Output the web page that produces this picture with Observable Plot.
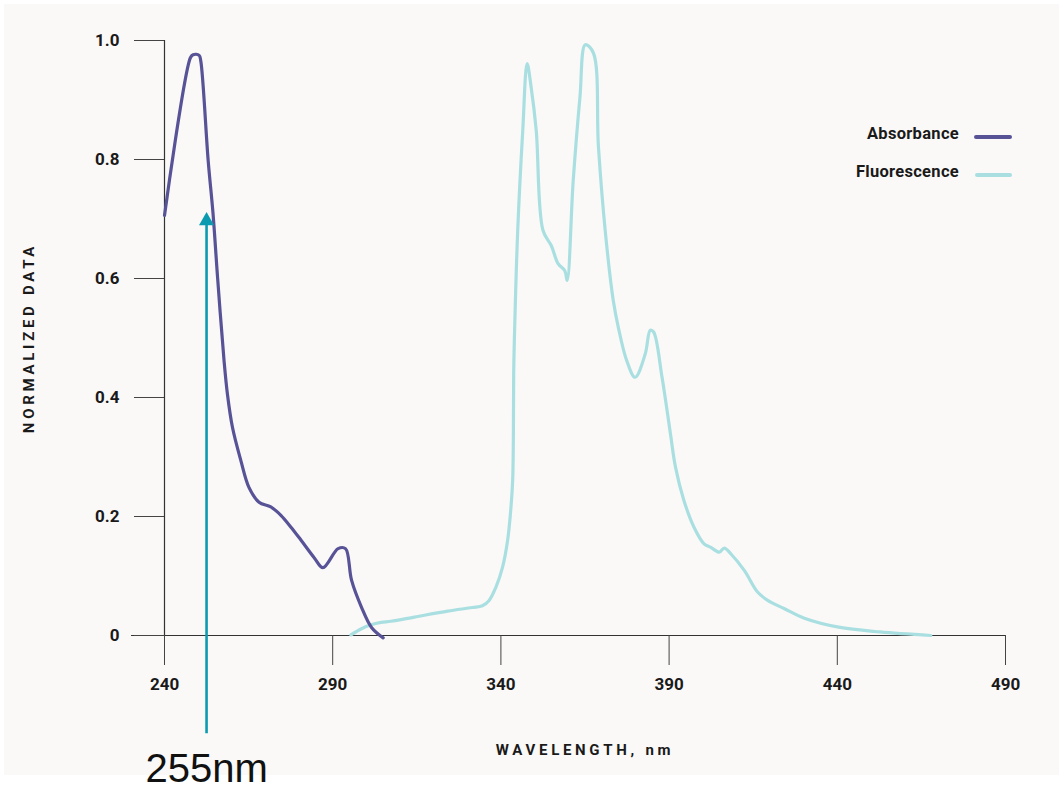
<!DOCTYPE html>
<html>
<head>
<meta charset="utf-8">
<script src="https://cdn.jsdelivr.net/npm/d3@7"></script>
<script src="https://cdn.jsdelivr.net/npm/@observablehq/plot@0.6"></script>
<style>
  body { margin: 0; background: #ffffff; }
  #wrap { position: relative; width: 1063px; height: 785px; overflow: hidden; }
  #bg { position: absolute; left: 4px; top: 4px; width: 1055px; height: 771px; background: #faf9f8; }
  #chart { position: absolute; left: 0; top: 0; }
  .leg { position: absolute; right: 104px; height: 20px; line-height: 20px;
         font-family: Roboto, "DejaVu Sans", sans-serif;
         font-weight: bold; font-size: 16.5px; color: #1a1a1a; text-align: right; white-space: nowrap; letter-spacing: 0.3px; }
  .legline { position: absolute; height: 4px; border-radius: 2px; }
</style>
</head>
<body>
<div id="wrap">
  <div id="bg"></div>
  <div id="chart"></div>
</div>
<script>
// ---- data ----
const absWl  = [240, 247.7, 248.5, 250.3, 250.8, 253.0, 254.4, 255.8, 257.7, 258.7, 260.2, 262.7, 265.1, 268.1, 271.6, 274.6, 277.6, 280.6, 284.6, 287.1, 291.6, 293.8, 295.6, 298.6, 301.6, 305.0];
const absVal = [0.706, 0.971, 0.976, 0.975, 0.965, 0.797, 0.711, 0.600, 0.462, 0.406, 0.350, 0.294, 0.249, 0.224, 0.216, 0.202, 0.182, 0.160, 0.130, 0.114, 0.146, 0.146, 0.093, 0.047, 0.013, -0.004];

const fluWl  = [295.4, 298.4, 301.4, 304.4, 307.3, 314.3, 324.2, 331.5, 334.5, 336.5, 338.5, 340.5, 342.0, 343.0, 343.5, 343.7, 343.8, 344.0, 345.0, 346.5, 347.8, 349.0, 350.5, 352.5, 355.0, 357.0, 359.0, 359.7, 361.5, 363.5, 365.1, 367.5, 369.0, 371.0, 373.4, 374.9, 377.4, 379.9, 382.9, 384.4, 385.4, 387.9, 390.4, 391.9, 394.4, 397.4, 400.4, 402.4, 404.9, 406.4, 408.4, 412.4, 416.3, 419.3, 424.3, 430.2, 440.4, 452.7, 467.8];
const fluVal = [0.001, 0.011, 0.018, 0.022, 0.024, 0.031, 0.041, 0.047, 0.050, 0.059, 0.081, 0.115, 0.160, 0.216, 0.261, 0.328, 0.440, 0.496, 0.681, 0.849, 0.961, 0.921, 0.849, 0.681, 0.655, 0.625, 0.613, 0.597, 0.765, 0.905, 0.993, 0.979, 0.821, 0.681, 0.563, 0.518, 0.462, 0.434, 0.473, 0.513, 0.510, 0.434, 0.339, 0.283, 0.227, 0.182, 0.154, 0.148, 0.140, 0.147, 0.137, 0.109, 0.073, 0.059, 0.045, 0.029, 0.014, 0.006, 0.000];

const xTicks = [240, 290, 340, 390, 440, 490];
const yTicks = [0, 0.2, 0.4, 0.6, 0.8, 1.0];
const xAxisStart = 230.2;          // x-axis baseline extends left of 240
const arrowWl = 252.5;             // annotation arrow position
const arrowBottom = -0.165;
const arrowTop = 0.697;
const arrowLabel = "255nm";
const arrowLabelY = -0.224;
const xTitle = "WAVELENGTH, nm";
const yTitle = "NORMALIZED DATA";

const absColor = "#575396";
const fluColor = "#a9dfe0";
const arrowColor = "#0b9bb0";

const absData = absWl.map((w, i) => ({w, v: absVal[i]}));
const fluData = fluWl.map((w, i) => ({w, v: fluVal[i]}));

const font = "Roboto, \"DejaVu Sans\", sans-serif";

const chart = Plot.plot({
  width: 1063,
  height: 785,
  marginTop: 40,
  marginBottom: 150,
  marginLeft: 164,
  marginRight: 58,
  style: { background: "transparent", fontFamily: font, fontSize: "17px", fontWeight: "bold", color: "#1a1a1a", overflow: "visible" },
  x: { domain: [240, 490] },
  y: { domain: [0, 1] },
  marks: [
    Plot.ruleY([0], { x1: xAxisStart, x2: 490, stroke: "#333", strokeWidth: 1.2 }),
    Plot.ruleX([240], { y1: 0, y2: 1, stroke: "#333", strokeWidth: 1.2 }),
    Plot.axisY({ ticks: yTicks, tickSize: 30, tickPadding: 15, stroke: "#444",
                 tickFormat: d => d === 0 ? "0" : d.toFixed(1), label: null }),
    Plot.axisX({ ticks: xTicks, tickSize: 30, tickPadding: 12, stroke: "#444", label: null }),
    Plot.text([yTitle], { frameAnchor: "left", textAnchor: "middle", dx: -135, rotate: -90, fontSize: 15, fontWeight: "bold" }),
    Plot.text([xTitle], { frameAnchor: "bottom", textAnchor: "middle", dy: 119, fontSize: 15, fontWeight: "bold" }),
    Plot.line(fluData, { x: "w", y: "v", curve: "catmull-rom", stroke: fluColor, strokeWidth: 3.2, strokeLinejoin: "round", strokeLinecap: "round" }),
    Plot.line(absData, { x: "w", y: "v", curve: "catmull-rom", stroke: absColor, strokeWidth: 3.2, strokeLinejoin: "round", strokeLinecap: "round" }),
    Plot.ruleX([arrowWl], { y1: arrowBottom, y2: arrowTop, stroke: arrowColor, strokeWidth: 2.6 }),
    Plot.dot([arrowWl], { x: d => d, y: arrowTop, symbol: "triangle", r: 5.6, fill: arrowColor, stroke: "none" }),
    Plot.text([arrowLabel], { x: arrowWl, y: arrowLabelY, fontSize: 40, fontWeight: "normal",
                              fontFamily: "\"Liberation Sans\", Arial, sans-serif", fill: "#111" })
  ]
});

d3.select(chart).selectAll("text")
  .filter(function() { return this.textContent === xTitle || this.textContent === yTitle; })
  .style("letter-spacing", "3.7px");

document.getElementById("chart").appendChild(chart);

// legend (HTML)
const wrap = document.getElementById("wrap");
const legendItems = [["Absorbance", absColor], ["Fluorescence", fluColor]];
legendItems.forEach(([name, color], i) => {
  const t = document.createElement("div");
  t.className = "leg";
  t.style.top = (124 + i * 38) + "px";
  t.textContent = name;
  wrap.appendChild(t);
  const l = document.createElement("div");
  l.className = "legline";
  l.style.left = (974 + i) + "px";
  l.style.width = (38 - i) + "px";
  l.style.top = (135 + i * 38) + "px";
  l.style.background = color;
  wrap.appendChild(l);
});
</script>
</body>
</html>
